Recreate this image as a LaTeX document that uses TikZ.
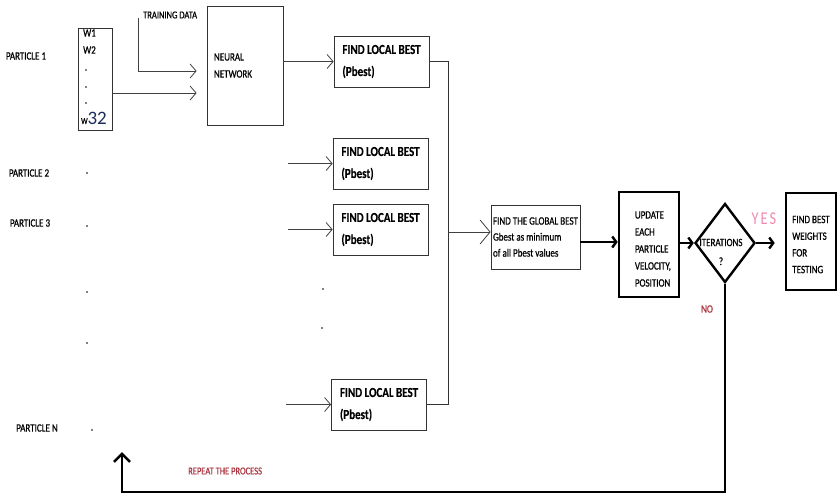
\documentclass[tikz,border=0pt]{standalone}
\usepackage{fontspec}
\setmainfont{Carlito}[FakeStretch=0.8, FakeBold=0.7, BoldFeatures={FakeBold=0.3}]
\newfontfamily\wideface{Carlito}
\newfontfamily\thinface{Carlito}[FakeStretch=0.8]
\usepackage{xcolor}
\usetikzlibrary{arrows.meta,positioning,shapes.geometric}
\definecolor{yesPink}{HTML}{F08AB0}
\definecolor{noRed}{HTML}{A8343F}
\definecolor{wNavy}{HTML}{1B2C5C}

\begin{document}
\begin{tikzpicture}[x=1pt,y=-1pt,
  font=\fontsize{11.25}{12}\selectfont,
  box/.style={draw=black!80, line width=0.8pt, inner sep=0pt},
  lbest/.style={box, minimum width=95, minimum height=51, align=left,
    font=\fontsize{13.75}{22}\selectfont\bfseries},
  heavy/.style={draw, line width=2.6pt, inner sep=0pt, align=left},
  chev/.style={draw=black!75, line width=0.8pt, -{Straight Barb[length=6pt,width=14pt]}},
  bigchev/.style={line width=2.4pt, -{Straight Barb[length=4pt,width=11pt]}},
  lbl/.style={inner sep=0pt}]
\useasboundingbox (0,0) rectangle (837,496);
% particles
\node[lbl] (p1) at (26,56) {PARTICLE 1};
\node[lbl] (p2) at (29,173) {PARTICLE 2};
\node[lbl] (p3) at (30,223) {PARTICLE 3};
\node[lbl] (pn) at (37,428) {PARTICLE N};
\foreach \x/\y in {87/173,87/226,87/292,87/343,92/430,323/289,322/328}{
  \fill (\x,\y) circle (0.9);
}
% weights of particle 1
\node[box, minimum width=34, minimum height=102] (wbox) at (95,79) {};
\node[lbl, anchor=west] (w1) at (83,33) {W1};
\node[lbl, anchor=west] (w2) at (83,50) {W2};
\foreach \y in {70,87,103}{
  \fill (86,\y) circle (0.8);
}
\node[lbl, anchor=base west] (w32) at (81,124)
  {\fontsize{9}{9}\selectfont W\wideface\fontsize{19}{19}\selectfont\textcolor{wNavy}{32}};
% network
\node[lbl, anchor=west, font=\fontsize{10.6}{11}\selectfont] (tdata) at (143,15) {TRAINING DATA};
\coordinate (tdin) at (138,18);
\node[box, minimum width=76, minimum height=119, text width=62, align=left,
  font=\fontsize{11.25}{17}\selectfont] (nn) at (245,65.5) {NEURAL\\NETWORK};
\draw[chev, shorten >=10pt] (tdin) |- (nn.west |- 0,71);
\draw[chev, shorten >=10pt] (wbox.east |- 0,93) -- (nn.west |- 0,93);
% local best
\node[lbest] (lb1) at (381.5,61.5) {FIND LOCAL BEST\\(Pbest)};
\node[lbest] (lb2) at (380.5,163.5) {FIND LOCAL BEST\\(Pbest)};
\node[lbest] (lb3) at (380.5,229.5) {FIND LOCAL BEST\\(Pbest)};
\node[lbest] (lb4) at (379,404.5) {FIND LOCAL BEST\\(Pbest)};
\draw[chev] (nn.east |- lb1.west) -- (lb1.west);
\foreach \b in {2,3,4}{
  \draw[chev] ([xshift=-45pt]lb\b.west) -- (lb\b.west);
}
% global best
\coordinate (bus) at (448,232);
\draw[box] (lb1.east) -| (bus);
\draw[box] (lb4.east) -| (bus);
\node[box, minimum width=89, minimum height=64, align=left,
  font=\fontsize{11.25}{16}\selectfont] (gb) at (535.5,237)
  {FIND THE GLOBAL BEST\\Gbest as minimum\\of all Pbest values};
\draw[chev, -{Straight Barb[length=10pt,width=24pt]}] (bus) -- (gb.west |- bus);
% update and check
\node[heavy, minimum width=60, minimum height=105,
  label={[lbl, align=left, anchor=west, xshift=17pt, yshift=-4.5pt,
    font=\fontsize{11.25}{17}\selectfont]west:UPDATE\\EACH\\PARTICLE\\VELOCITY,\\POSITION}]
  (upd) at (649,244.5) {};
\draw[bigchev] (gb.east |- 0,242) -- (upd.west |- 0,242);
\node[diamond, draw, line width=2.4pt, minimum width=60, minimum height=79,
  inner sep=0pt] (dia) at (725,243) {};
\node[lbl, align=center, font=\fontsize{11.25}{19}\selectfont] (itxt) at (721,252) {ITERATIONS\\?};
\draw[bigchev] (upd.east |- dia.west) -- (dia.west);
\node[heavy, minimum width=50, minimum height=97,
  label={[lbl, align=left, anchor=center, yshift=-3pt,
    font=\fontsize{11.25}{16.7}\selectfont]center:FIND BEST\\WEIGHTS\\FOR\\TESTING}]
  (fin) at (811,241.5) {};
\draw[bigchev, shorten >=10pt] (dia.east) -- (fin.west |- dia.east);
\node[lbl, text=yesPink, font=\thinface\fontsize{18}{19}\selectfont] (yes) at (764,219)
  {Y\kern2pt E\kern2pt S};
\node[lbl, text=noRed] (no) at (707,309) {NO};
% loop back
\coordinate (again) at (122,452);
\draw[line width=2.6pt, -{Straight Barb[length=8pt,width=16pt]}]
  (dia.south) -- (dia.south |- 0,492) -| (again);
\node[lbl, text=noRed, anchor=west, font=\fontsize{10.6}{11}\selectfont] (rep) at (188,471)
  {REPEAT THE PROCESS};
\end{tikzpicture}
\end{document}
